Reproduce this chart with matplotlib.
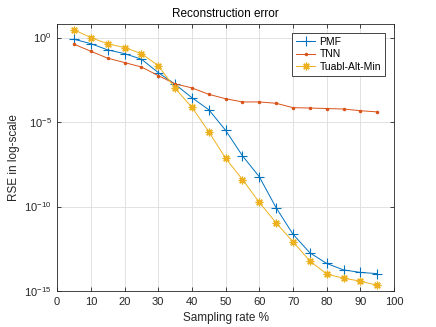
import numpy as np
import matplotlib
matplotlib.use('Agg')
import matplotlib.pyplot as plt
from matplotlib.ticker import FixedLocator, NullLocator

#*********************************************************************************
# data (log10 of RSE)
rate = [5, 10, 15, 20, 25, 30, 35, 40, 45, 50, 55, 60, 65, 70, 75, 80, 85, 90, 95]
pmf_log = [-0.10, -0.36, -0.73, -0.95, -1.28, -2.07, -2.76, -3.56, -4.27, -5.49,
           -7.00, -8.24, -10.08, -11.64, -12.74, -13.37, -13.75, -13.90, -13.97]
tnn_log = [-0.39, -0.81, -1.22, -1.48, -1.74, -2.25, -2.74, -2.98, -3.36, -3.62,
           -3.81, -3.81, -3.89, -4.15, -4.17, -4.20, -4.23, -4.33, -4.40]
tam_log = [0.46, 0.00, -0.37, -0.59, -0.95, -1.66, -3.00, -4.13, -5.57, -7.15,
           -8.40, -9.76, -10.97, -12.09, -13.22, -14.00, -14.24, -14.42, -14.66]
names = ['PMF', 'TNN', 'Tuabl-Alt-Min']

#*********************************************************************************
plt.rcParams['font.family'] = ['Liberation Sans', 'DejaVu Sans']
ax_col = '#262626'

fig = plt.figure(figsize=(4.36, 3.27), dpi=100)
ax = fig.add_axes([0.131, 0.110, 0.773, 0.817])

ax.plot(rate, 10.0**np.array(pmf_log), color='#0072BD', marker='+', ms=6.5, mew=0.8, lw=0.7, label=names[0])
ax.plot(rate, 10.0**np.array(tnn_log), color='#D95319', marker='.', ms=3, lw=0.7, label=names[1])
ax.plot(rate, 10.0**np.array(tam_log), color='#EDB120', marker=(8, 2, 0), ms=5.5, mew=0.9, lw=0.7, label=names[2])

ax.set_yscale('log')
ax.set_xlim([0, 100])
ax.set_ylim([1e-15, 10**0.81])
ax.xaxis.set_major_locator(FixedLocator(np.arange(0, 101, 10)))
ax.yaxis.set_major_locator(FixedLocator([1e-15, 1e-10, 1e-5, 1e0]))
ax.yaxis.set_minor_locator(NullLocator())
ax.grid(True, color='#dddddd', lw=0.6)
ax.set_axisbelow(True)
ax.tick_params(direction='in', length=3, width=0.6, top=True, right=True, labelsize=8, colors=ax_col, pad=4)
for s in ax.spines.values():
   s.set_color(ax_col)
   s.set_linewidth(0.6)

ax.set_title('Reconstruction error', fontsize=8.5, color='k', pad=5)
ax.set_xlabel('Sampling rate %', fontsize=8.5, color=ax_col, labelpad=4)
ax.set_ylabel('RSE in log-scale', fontsize=8.5, color=ax_col, labelpad=3)

leg = ax.legend(loc='upper right', fontsize=7.5, fancybox=False, framealpha=1,
                edgecolor=ax_col, borderaxespad=0.9, handlelength=1.9, labelspacing=0.25,
                borderpad=0.35, handletextpad=0.4)
leg.get_frame().set_linewidth(0.6)

plt.savefig('out.png', dpi=100)
plt.close()
